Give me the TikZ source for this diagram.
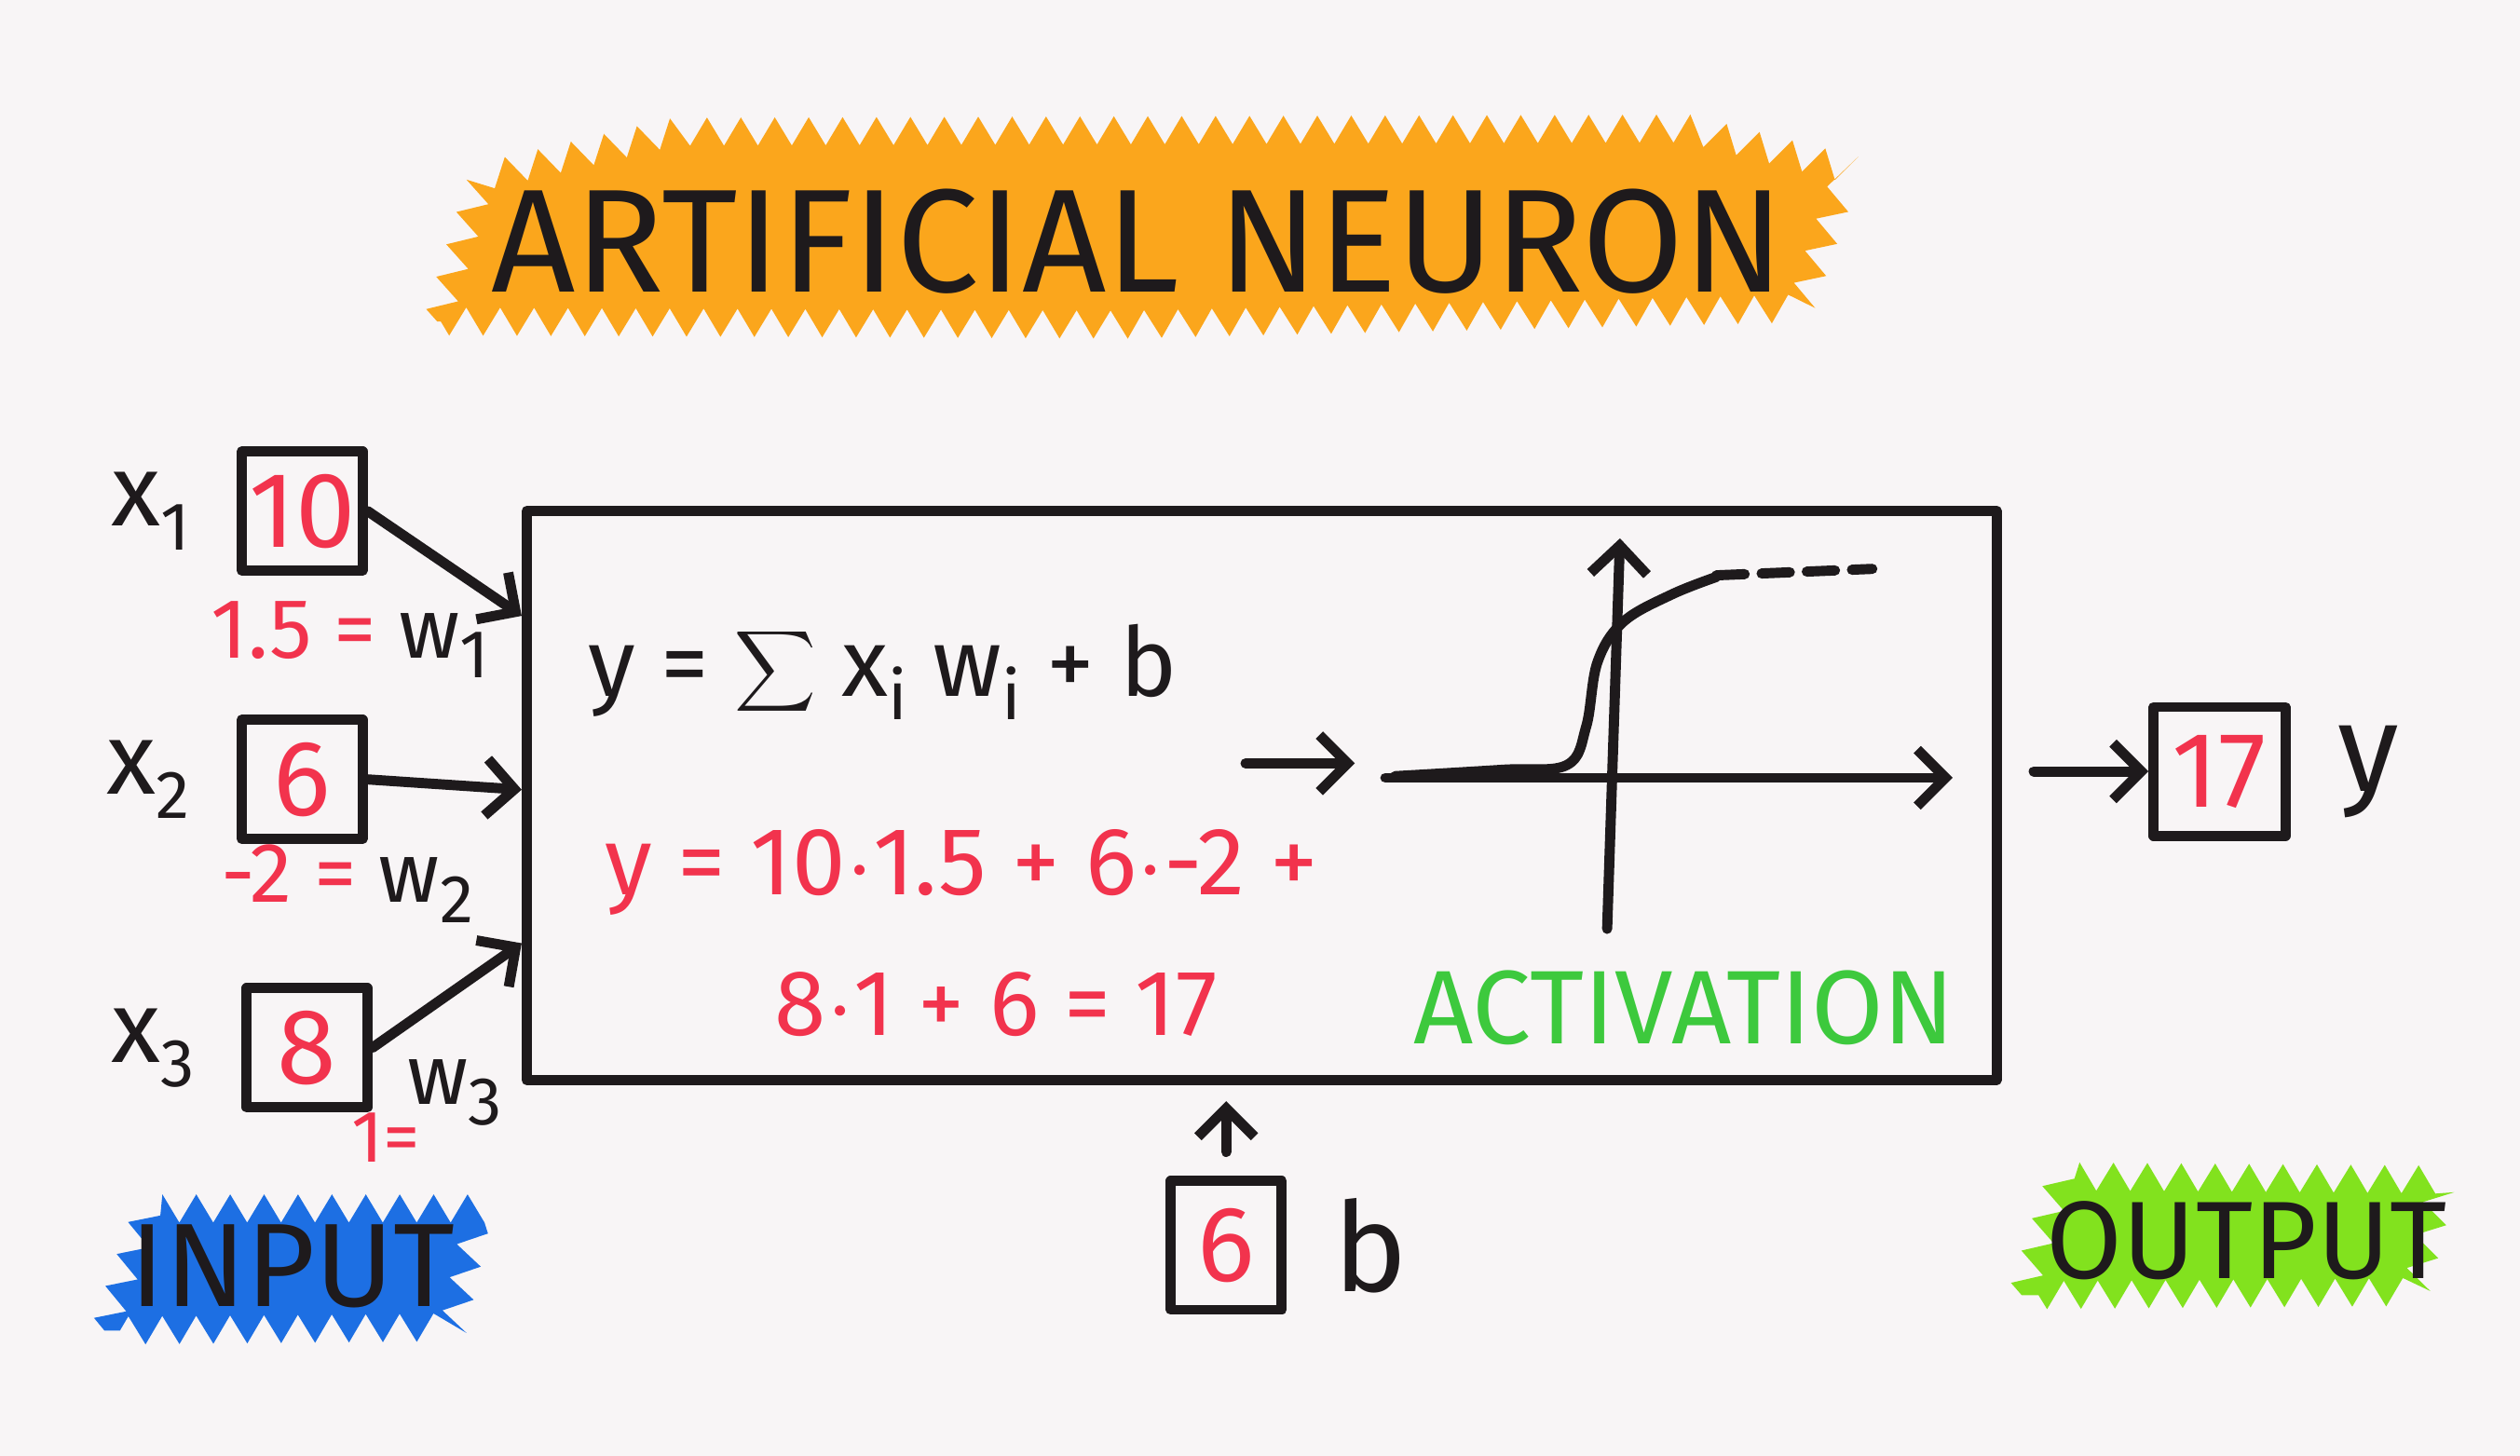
\documentclass[tikz,border=0pt]{standalone}
\usepackage{fontspec}
\setmainfont{Fira Sans}
\usetikzlibrary{arrows.meta,positioning,calc,decorations.pathmorphing}

\definecolor{paper}{HTML}{F8F5F6}
\definecolor{marker}{HTML}{1E1A1C}
\definecolor{penred}{HTML}{F2334D}
\definecolor{pengreen}{HTML}{3DC93D}
\definecolor{hlorange}{HTML}{FBA61C}
\definecolor{hlblue}{HTML}{1D6FE3}
\definecolor{hlgreen}{HTML}{82E21E}

\newcommand{\lowsub}[1]{\raisebox{-0.45ex}{\fontsize{12}{12}\selectfont #1}}
\newcommand{\fs}[1]{\fontsize{#1}{#1}\selectfont}

\tikzset{
  pen/.style={line width=1.8pt, line cap=round, line join=round, draw=marker},
  arr/.style={pen, -{Straight Barb[length=5pt,width=10pt,line width=1.8pt]}},
  valbox/.style={pen, minimum width=0.75cm, minimum height=0.74cm, inner sep=0pt, text=penred, font=\fs{19}},
  lbl/.style={text=marker, font=\fs{19}, inner sep=1pt},
  hl/.style={decorate, decoration={zigzag, segment length=6pt, amplitude=2.5pt}},
}

\begin{document}
\begin{tikzpicture}[x=0.01cm,y=-0.01cm,>=Latex]
  \fill[paper] (0,0) rectangle (1568,906);
  \useasboundingbox (0,0) rectangle (1568,906);

  % marker highlights
  \fill[hlorange, hl] (272,200) -- (300,110) -- (420,82) -- (1050,80) -- (1150,105)
    -- (1120,192) -- (700,202) -- cycle;
  \fill[hlblue, hl] (65,828) -- (92,752) -- (298,752) -- (282,826) -- cycle;
  \fill[hlgreen, hl] (1258,806) -- (1282,732) -- (1520,734) -- (1503,804) -- cycle;

  \node[text=marker, font=\fs{26}] (title) at (708,150) {ARTIFICIAL NEURON};
  \node[text=marker, font=\fs{21}] (inlbl) at (182,788) {INPUT};
  \node[text=marker, font=\fs{19.5}] (outlbl) at (1398,772) {OUTPUT};

  % neuron body
  \node[pen, draw, minimum width=9.14cm, minimum height=3.54cm] (neuron) at (785,495) {};

  % inputs
  \node[valbox] (in1) at (188,318) {10};
  \node[valbox] (in2) at (188,485) {6};
  \node[valbox] (in3) at (191,652) {8};
  \node[lbl, font=\fs{18}, left=0.25cm of in1] (x1) {x\lowsub{1}};
  \node[lbl, font=\fs{18}, left=0.25cm of in2] (x2) {x\lowsub{2}};
  \node[lbl, font=\fs{18}, left=0.25cm of in3] (x3) {x\lowsub{3}};
  \node[lbl, font=\fs{15}] (w1) at (218,398) {{\color{penred}1.5 =} w\lowsub{1}};
  \node[lbl, font=\fs{15}] (w2) at (216,550) {{\color{penred}-2 =} w\lowsub{2}};
  \node[lbl, font=\fs{15}] (w3) at (283,680) {w\lowsub{3}};
  \node[lbl, font=\fs{13}, text=penred] (w3val) at (240,708) {1=};

  \draw[arr] (in1.east) -- ($(neuron.north west)!0.19!(neuron.south west)$);
  \draw[arr] (in2.east) -- ($(neuron.north west)!0.49!(neuron.south west)$);
  \draw[arr] (in3.east) -- ($(neuron.north west)!0.755!(neuron.south west)$);

  % formulas
  \node[lbl, anchor=west, font=\fs{17}] (sumf) at (362,418) {y = $\displaystyle\sum$ x\lowsub{i} w\lowsub{i} + b};
  \node[lbl, anchor=west, text=penred, font=\fs{17}] (calc1) at (372,543) {y = 10$\cdot$1.5 + 6$\cdot$-2 +};
  \node[lbl, anchor=west, text=penred, font=\fs{16.5}] (calc2) at (478,625) {8$\cdot$1 + 6 = 17};

  % activation
  \coordinate (sumout) at (775,475);
  \coordinate (actin) at (843,475);
  \draw[arr] (sumout) -- (actin);
  \draw[arr] (862,484) -- (1215,484);
  \draw[arr] (1000,578) -- (1008,335);
  \draw[pen] plot[smooth, tension=0.6] coordinates {(868,483) (935,479) (975,476) (987,452) (994,412) (1010,387) (1040,370) (1068,359)};
  \draw[pen, dash pattern=on 5pt off 3pt] (1068,358) -- (1165,354);
  \node[text=pengreen, font=\fs{18.5}] (act) at (1048,627) {ACTIVATION};

  % output
  \node[valbox, minimum width=0.82cm, minimum height=0.8cm] (out) at (1381,480) {17};
  \node[lbl, font=\fs{22}, right=0.25cm of out] (ylbl) {y};
  \draw[arr] ([xshift=0.2cm]neuron.east |- out.west) -- (out.west);

  % bias
  \node[valbox, minimum width=0.69cm, minimum height=0.8cm] (bias) at (763,775) {6};
  \node[lbl, font=\fs{22}, right=0.25cm of bias] (blbl) {b};
  \draw[arr, shorten <=0.15cm, shorten >=0.1cm] (bias.north) -- (bias.north |- neuron.south);
\end{tikzpicture}
\end{document}
